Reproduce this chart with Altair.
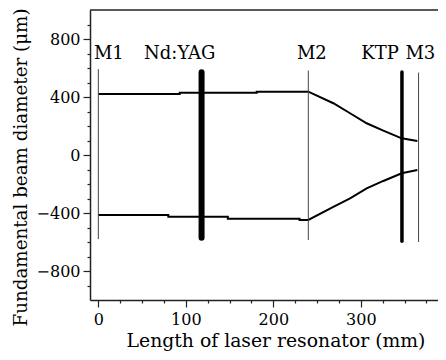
import altair as alt
import pandas as pd

# Beam envelope (upper / lower)
upper_x = [0, 93, 93, 181, 181, 240, 268.6, 287.7, 306.7, 325.7, 346.7, 364.6]
upper_y = [421, 421, 430, 430, 437, 437, 357, 288, 219, 168, 115, 97]
lower_x = [0, 80, 80, 148, 148, 230, 230, 240, 268.6, 287.7, 306.7, 325.7, 346.7, 364.6]
lower_y = [-414, -414, -425, -425, -439, -439, -448, -448, -357, -299, -230, -179, -126, -103]

# Optical elements
mirror_names = ["M1", "M2", "M3"]
mirror_x = [0, 240, 366]
mirror_top = [592, 582, 568]
mirror_bot = [-580, -586, -600]

crystal_names = ["Nd:YAG", "KTP"]
crystal_x = [118, 347]
crystal_top = [570, 572]
crystal_bot = [-570, -595]

label_names = ["M1", "Nd:YAG", "M2", "KTP", "M3"]
label_x = [12, 93, 244, 322, 368]
label_y = [662, 662, 662, 662, 662]

FONT = "DejaVu Serif"

beam = pd.DataFrame({
    "x": upper_x + lower_x,
    "y": upper_y + lower_y,
    "s": ["upper"] * len(upper_x) + ["lower"] * len(lower_x),
    "i": list(range(len(upper_x))) + list(range(len(lower_x))),
})
mirrors = pd.DataFrame({"n": mirror_names, "x": mirror_x, "y": mirror_top, "y2": mirror_bot})
crystals = pd.DataFrame({"n": crystal_names, "x": crystal_x, "y": crystal_top, "y2": crystal_bot})
labels = pd.DataFrame({"n": label_names, "x": label_x, "y": label_y})
top = pd.DataFrame({"y": [1000]})

xscale = alt.Scale(domain=[-9.5, 388.2], nice=False, zero=False)
yscale = alt.Scale(domain=[-1000, 1000], nice=False, zero=False)

xvals = list(range(0, 400, 25))
yvals = list(range(-900, 1000, 100))

xaxis = alt.Axis(
    values=xvals,
    labelExpr="datum.value % 100 === 0 ? datum.label : ''",
    tickSize={"condition": {"test": "datum.value % 100 === 0", "value": 7}, "value": 3},
    labelOverlap=False,
    grid=False,
    title="Length of laser resonator (mm)",
    titleX=185.5,
    titleAlign="center",
    titleFontSize=18.8,
    titlePadding=4,
    labelPadding=4,
)
yaxis = alt.Axis(
    values=yvals,
    labelExpr="abs(datum.value) % 400 === 0 ? datum.label : ''",
    tickSize={"condition": {"test": "abs(datum.value) % 400 === 0", "value": 7}, "value": 3},
    labelOverlap=False,
    grid=False,
    title="Fundamental beam diameter (μm)",
    titleY=157,
    titleAlign="center",
    titleFontSize=18.3,
    titlePadding=6,
    labelPadding=3,
)

X = alt.X("x:Q", scale=xscale, axis=xaxis)
Y = alt.Y("y:Q", scale=yscale, axis=yaxis)

lines = alt.Chart(beam).mark_line(color="black", strokeWidth=2).encode(
    x=X, y=Y, detail="s:N", order="i:Q",
)

thin = alt.Chart(mirrors).mark_rule(color="#444", strokeWidth=1).encode(
    x=X, y=Y, y2="y2:Q"
)

thick_nd = alt.Chart(crystals[crystals.n == "Nd:YAG"]).mark_rule(
    color="black", strokeWidth=6, strokeCap="round"
).encode(x=X, y=Y, y2="y2:Q")

thick_ktp = alt.Chart(crystals[crystals.n == "KTP"]).mark_rule(
    color="black", strokeWidth=3.5, strokeCap="round"
).encode(x=X, y=Y, y2="y2:Q")

text = alt.Chart(labels).mark_text(
    font=FONT, fontSize=18, color="black", align="center", baseline="alphabetic"
).encode(x=X, y=Y, text="n:N")

topline = alt.Chart(top).mark_rule(color="#222", strokeWidth=1.5).encode(y=Y)

chart = alt.layer(lines, thin, thick_nd, thick_ktp, text, topline).properties(
    width=348,
    height=290,
    autosize=alt.AutoSizeParams(type="none"),
    padding={"left": 82, "top": 2, "right": 0, "bottom": 52},
).configure_view(stroke=None).configure_axis(
    domainColor="#222",
    domainWidth=1.5,
    tickColor="#222",
    tickWidth=1.2,
    labelFont=FONT,
    labelFontSize=16,
    labelColor="black",
    titleFont=FONT,
    titleFontWeight="normal",
    titleColor="black",
)

chart.save("out.html", embed_options={"renderer": "svg", "actions": False})
